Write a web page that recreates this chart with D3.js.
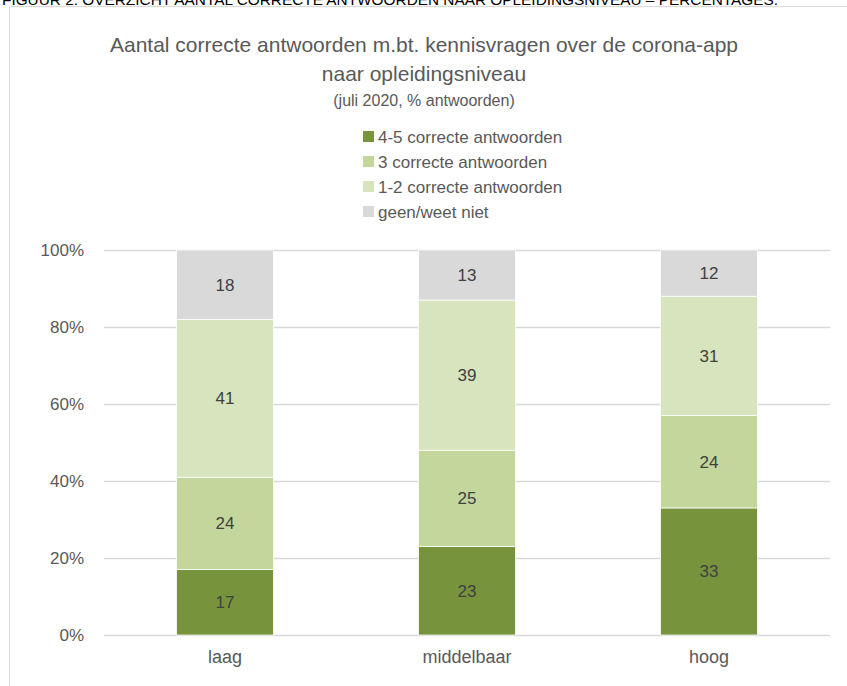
<!DOCTYPE html>
<html lang="nl">
<head>
    <meta charset="UTF-8">
    <title>Correcte antwoorden naar opleidingsniveau</title>
    <script src="https://d3js.org/d3.v7.min.js"></script>
    <style>
        body {margin: 0; background: #fff;}
        text {font-family: "Liberation Sans", Arial, sans-serif;}
    </style>
</head>
<body>
<script>
    const width = 847;
    const height = 686;

    // data
    const niveaus = ["laag", "middelbaar", "hoog"];
    const series = ["4-5 correcte antwoorden", "3 correcte antwoorden", "1-2 correcte antwoorden", "geen/weet niet"];
    const goed45 = [17, 23, 33];
    const goed3 = [24, 25, 24];
    const goed12 = [41, 39, 31];
    const geen = [18, 13, 12];
    const yTicks = [0, 20, 40, 60, 80, 100];

    const colors = ["#77933c", "#c3d69b", "#d7e4bd", "#d9d9d9"];
    const textCol = "#595959";

    const rows = niveaus.map((n, i) => ({
        niveau: n,
        [series[0]]: goed45[i],
        [series[1]]: goed3[i],
        [series[2]]: goed12[i],
        [series[3]]: geen[i]
    }));
    const stacked = d3.stack().keys(series)(rows);

    const svg = d3.select("body").append("svg")
            .attr("width", width).attr("height", height);

    // caption above the chart (the page cuts it off at the top, like the source)
    svg.append("text")
            .attr("x", 2).attr("y", 4.5)
            .attr("textLength", 776).attr("lengthAdjust", "spacingAndGlyphs")
            .style("font-size", "15px")
            .style("fill", "#000")
            .text("FIGUUR 2: OVERZICHT AANTAL CORRECTE ANTWOORDEN NAAR OPLEIDINGSNIVEAU – PERCENTAGES.");

    // chart frame
    svg.append("path")
            .attr("d", "M9.5,686 V6.5 H847")
            .style("fill", "none")
            .style("stroke", "#d9d9d9");

    const x = d3.scaleBand().domain(niveaus).range([104, 830]).paddingInner(0.6).paddingOuter(0.3);
    const y = d3.scaleLinear().domain([0, 100]).range([635, 250]);

    // gridlines
    svg.append("g").selectAll("line")
            .data(yTicks)
            .join("line")
            .attr("x1", 104).attr("x2", 830)
            .attr("y1", d => Math.round(y(d)) + 0.5).attr("y2", d => Math.round(y(d)) + 0.5)
            .style("stroke", "#d9d9d9")
            .style("stroke-width", 1.3);

    // y axis labels
    const yAxis = svg.append("g")
            .attr("transform", "translate(84,0)")
            .call(d3.axisLeft(y).tickValues(yTicks).tickFormat(d => d + "%").tickSize(0).tickPadding(0));
    yAxis.select(".domain").remove();
    yAxis.selectAll("text")
            .style("font-size", "17px")
            .style("fill", textCol)
            .style("font-family", null);

    // x axis labels
    const xAxis = svg.append("g")
            .attr("transform", "translate(0,650)")
            .call(d3.axisBottom(x).tickSize(0).tickPadding(0));
    xAxis.select(".domain").remove();
    xAxis.selectAll("text")
            .style("font-size", "18px")
            .style("fill", textCol)
            .style("font-family", null);

    // bars
    const layer = svg.append("g").selectAll("g.layer")
            .data(stacked)
            .join("g")
            .attr("class", "layer")
            .style("fill", (d, i) => colors[i]);

    layer.selectAll("rect")
            .data(d => d.map(p => ({p: p, key: d.key})))
            .join("rect")
            .attr("x", d => x(d.p.data.niveau))
            .attr("width", x.bandwidth())
            .attr("y", d => y(d.p[1]))
            .attr("height", d => y(d.p[0]) - y(d.p[1]))
            .style("stroke", "#fff")
            .style("stroke-width", 0.75);

    layer.selectAll("text")
            .data(d => d.map(p => ({p: p, key: d.key})))
            .join("text")
            .attr("x", d => x(d.p.data.niveau) + x.bandwidth() / 2)
            .attr("y", d => (y(d.p[0]) + y(d.p[1])) / 2)
            .attr("dy", "0.35em")
            .attr("text-anchor", "middle")
            .style("font-size", "17px")
            .style("fill", "#404040")
            .text(d => d.p[1] - d.p[0]);

    // title
    const title = svg.append("g").attr("text-anchor", "middle").style("fill", textCol);
    title.append("text").attr("x", 424).attr("y", 52).style("font-size", "21px")
            .text("Aantal correcte antwoorden m.bt. kennisvragen over de corona-app");
    title.append("text").attr("x", 424).attr("y", 81).style("font-size", "21px")
            .text("naar opleidingsniveau");
    title.append("text").attr("x", 424).attr("y", 106).style("font-size", "16px")
            .text("(juli 2020, % antwoorden)");

    // legend
    const legend = svg.append("g").selectAll("g")
            .data(series)
            .join("g")
            .attr("transform", (d, i) => `translate(363,${131 + i * 25})`);
    legend.append("rect")
            .attr("width", 11).attr("height", 11)
            .style("fill", (d, i) => colors[i]);
    legend.append("text")
            .attr("x", 15).attr("y", 6).attr("dy", "0.35em")
            .style("font-size", "17px")
            .style("fill", textCol)
            .text(d => d);
</script>
</body>
</html>
